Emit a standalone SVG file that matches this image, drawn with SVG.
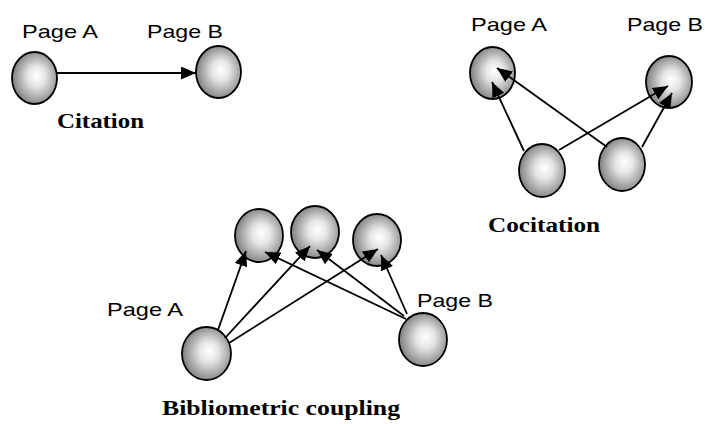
<svg xmlns="http://www.w3.org/2000/svg" width="705" height="424" viewBox="0 0 705 424">
<defs>
<radialGradient id="ball" cx="0.55" cy="0.5" r="0.55" fx="0.55" fy="0.45">
<stop offset="0" stop-color="#ffffff"/>
<stop offset="0.35" stop-color="#e6e6e6"/>
<stop offset="1" stop-color="#7e7e7e"/>
</radialGradient>
<marker id="ah" markerUnits="userSpaceOnUse" markerWidth="16" markerHeight="13" refX="15" refY="6.5" orient="auto">
<path d="M0,0 L15,6.5 L0,13 Z" fill="#000"/>
</marker>
<style>
.n{fill:url(#ball);stroke:#000;stroke-width:1.8}
.lbl{font-family:"Liberation Sans",Arial,sans-serif;font-size:19px;fill:#000}
.cap{font-family:"Liberation Serif","Times New Roman",serif;font-size:22px;font-weight:bold;fill:#000}
.e line{stroke:#000;stroke-width:1.8;marker-end:url(#ah)}
</style>
</defs>
<rect width="705" height="424" fill="#fff"/>

<g id="cit-a"><ellipse class="n" cx="34.5" cy="78" rx="22.5" ry="26"/><text class="lbl" x="22" y="38" textLength="76" lengthAdjust="spacingAndGlyphs">Page A</text></g>
<g id="cit-b"><ellipse class="n" cx="218.5" cy="72" rx="22.5" ry="26"/><text class="lbl" x="147" y="38" textLength="76" lengthAdjust="spacingAndGlyphs">Page B</text></g>
<g id="cit-label"><text class="cap" x="57" y="128" textLength="87" lengthAdjust="spacingAndGlyphs">Citation</text></g>

<g id="coc-a"><ellipse class="n" cx="492.5" cy="73" rx="22.5" ry="26"/><text class="lbl" x="471" y="31" textLength="76" lengthAdjust="spacingAndGlyphs">Page A</text></g>
<g id="coc-b"><ellipse class="n" cx="669" cy="82" rx="23" ry="26"/><text class="lbl" x="627" y="31" textLength="76" lengthAdjust="spacingAndGlyphs">Page B</text></g>
<g id="coc-c1"><ellipse class="n" cx="542" cy="170.5" rx="23" ry="26.5"/></g>
<g id="coc-c2"><ellipse class="n" cx="622" cy="164.5" rx="23" ry="26.5"/></g>
<g id="coc-label"><text class="cap" x="488" y="232" textLength="112" lengthAdjust="spacingAndGlyphs">Cocitation</text></g>

<g id="bib-t1"><ellipse class="n" cx="259" cy="235.5" rx="24" ry="26.5"/></g>
<g id="bib-t2"><ellipse class="n" cx="315" cy="232" rx="24" ry="26"/></g>
<g id="bib-t3"><ellipse class="n" cx="377" cy="240" rx="24" ry="26"/></g>
<g id="bib-a"><ellipse class="n" cx="206.5" cy="353.5" rx="24.5" ry="26.5"/><text class="lbl" x="107" y="316" textLength="76" lengthAdjust="spacingAndGlyphs">Page A</text></g>
<g id="bib-b"><ellipse class="n" cx="423" cy="339.5" rx="24" ry="26.5"/><text class="lbl" x="417" y="307" textLength="76" lengthAdjust="spacingAndGlyphs">Page B</text></g>
<g id="bib-label"><text class="cap" x="162" y="415" textLength="238" lengthAdjust="spacingAndGlyphs">Bibliometric coupling</text></g>

<g id="edges" class="e">
<line x1="57" y1="73" x2="196" y2="73"/>
<line x1="524" y1="151" x2="492" y2="82"/>
<line x1="607" y1="147" x2="497" y2="68"/>
<line x1="559" y1="150" x2="668" y2="86"/>
<line x1="642" y1="147" x2="672" y2="93"/>
<line x1="218" y1="330" x2="246" y2="251"/>
<line x1="225" y1="338" x2="310" y2="246"/>
<line x1="229" y1="343" x2="378" y2="249"/>
<line x1="406" y1="319" x2="265" y2="252"/>
<line x1="404" y1="316" x2="317" y2="250"/>
<line x1="407" y1="314" x2="381" y2="255"/>
</g>
</svg>
